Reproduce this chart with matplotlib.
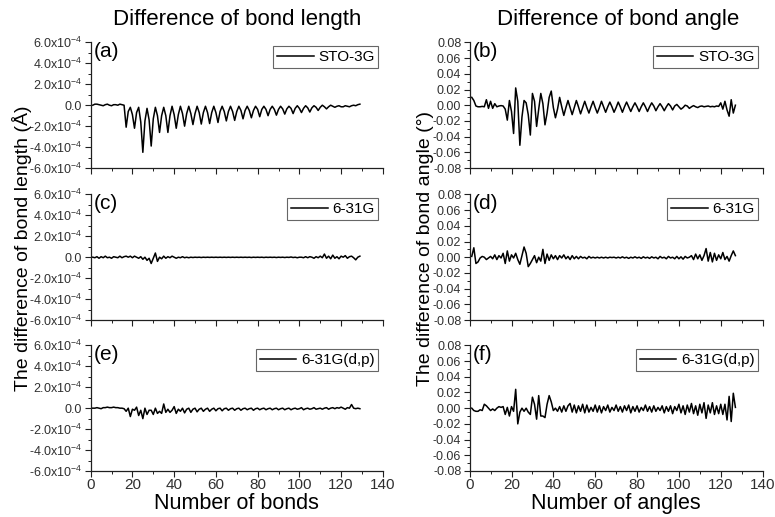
import numpy as np
import matplotlib
matplotlib.use("Agg")
import matplotlib.pyplot as plt
from matplotlib.ticker import MultipleLocator, FuncFormatter

plt.rcParams['font.family'] = ['Liberation Sans', 'DejaVu Sans']
plt.rcParams['mathtext.default'] = 'regular'

# bond length differences, in units of 1e-4 Angstrom (bonds 1..129)
sto3g_len = [
    0.00, 0.10, 0.10, 0.05, 0.00, -0.05, 0.05, 0.10,
    0.00, -0.05, 0.05, 0.05, 0.00, 0.10, 0.05, 0.00,
    -2.10, -0.60, -0.20, -0.90, -2.20, -0.70, -0.20, -1.60,
    -4.50, -1.50, -0.30, -1.40, -3.90, -1.30, -0.20, -1.00,
    -2.60, -1.00, -0.20, -1.00, -2.60, -1.00, -0.10, -0.90,
    -2.20, -0.90, -0.10, -0.80, -2.00, -0.80, -0.10, -0.80,
    -1.85, -0.80, -0.10, -0.70, -1.80, -0.70, -0.10, -0.70,
    -1.75, -0.70, -0.10, -0.70, -1.65, -0.60, -0.10, -0.60,
    -1.50, -0.60, -0.10, -0.60, -1.45, -0.60, -0.10, -0.50,
    -1.30, -0.50, -0.10, -0.50, -1.20, -0.50, -0.10, -0.40,
    -1.10, -0.40, -0.10, -0.40, -1.00, -0.40, -0.10, -0.40,
    -0.95, -0.40, -0.10, -0.35, -0.85, -0.35, -0.10, -0.30,
    -0.80, -0.30, -0.05, -0.30, -0.70, -0.30, -0.05, -0.25,
    -0.65, -0.25, -0.05, -0.20, -0.50, -0.20, 0.00, -0.15,
    -0.35, -0.15, 0.00, -0.10, -0.20, -0.10, -0.05, -0.15,
    -0.15, -0.05, -0.10, -0.15, -0.05, 0.00, -0.05, 0.05,
    0.10]

g631_len = [
    0.00, -0.05, 0.05, -0.10, 0.05, -0.05, 0.10, -0.05,
    0.00, -0.10, 0.05, 0.00, -0.05, 0.10, -0.05, 0.05,
    0.10, 0.00, 0.10, -0.05, 0.10, 0.00, -0.10, 0.05,
    -0.20, 0.00, -0.30, -0.10, -0.60, -0.10, 0.40, -0.40,
    0.00, -0.15, 0.10, -0.10, 0.05, -0.05, 0.10, 0.00,
    -0.10, 0.00, -0.05, 0.05, -0.05, 0.00, -0.05, 0.00,
    -0.03, 0.00, -0.02, 0.00, -0.03, 0.00, -0.02, 0.00,
    -0.02, 0.00, -0.02, 0.00, -0.02, 0.00, -0.02, 0.00,
    -0.02, 0.00, -0.02, 0.00, -0.02, 0.00, -0.02, 0.00,
    -0.02, 0.00, -0.02, 0.00, -0.03, 0.00, -0.02, 0.00,
    -0.02, 0.00, -0.03, 0.00, -0.02, 0.00, -0.02, 0.00,
    -0.03, 0.00, -0.02, 0.00, -0.03, 0.00, -0.02, 0.02,
    -0.03, 0.00, -0.05, 0.00, 0.00, -0.05, 0.05, -0.05,
    0.05, 0.00, -0.10, 0.05, -0.05, 0.10, -0.05, 0.30,
    -0.10, 0.10, -0.15, 0.20, -0.10, 0.05, -0.15, 0.10,
    0.00, 0.15, -0.10, 0.05, 0.10, -0.05, -0.25, 0.00,
    0.10]

g631dp_len = [
    0.00, 0.00, 0.05, 0.00, -0.05, 0.05, 0.05, 0.10,
    0.05, 0.05, 0.10, 0.05, 0.05, 0.00, 0.00, -0.05,
    -0.30, 0.00, -0.80, -0.10, -0.20, 0.10, -0.70, -0.20,
    -1.00, 0.00, -0.60, -0.20, -0.20, -0.60, 0.00, -0.50,
    -0.30, -0.50, 0.40, -0.40, -0.10, -0.40, -0.20, 0.15,
    -0.50, -0.10, -0.30, 0.00, -0.45, -0.10, 0.00, -0.40,
    -0.10, 0.00, -0.35, -0.10, 0.00, -0.30, -0.10, 0.00,
    -0.30, -0.10, 0.00, -0.25, -0.05, 0.00, -0.25, -0.05,
    0.00, -0.20, -0.05, 0.00, -0.20, -0.05, 0.00, -0.20,
    -0.05, 0.00, -0.15, -0.05, 0.00, -0.20, -0.05, 0.00,
    -0.15, -0.05, 0.00, -0.15, -0.05, 0.00, -0.15, -0.05,
    0.00, -0.15, -0.05, 0.00, -0.15, -0.05, 0.00, -0.15,
    -0.05, 0.00, -0.10, -0.05, 0.05, -0.15, -0.05, 0.00,
    -0.10, -0.05, 0.05, -0.10, -0.05, 0.00, -0.10, 0.00,
    0.05, -0.10, 0.00, 0.05, -0.05, 0.05, 0.00, 0.10,
    0.00, -0.10, 0.05, 0.00, 0.35, 0.00, -0.05, 0.00,
    -0.05]

# bond angle differences, in units of 0.01 degree (angles 1..127)
sto3g_ang = [
    1.00, 0.60, -0.10, -0.20, -0.20, -0.15, -0.20, 0.70,
    -0.40, 0.50, -0.40, 0.20, -0.20, -0.10, -0.05, -0.10,
    -0.50, -1.90, 0.60, -0.80, -3.60, 2.20, 0.50, -5.10,
    -1.50, 0.60, 0.30, -1.20, -3.80, 1.50, 0.50, -2.70,
    -0.50, 1.50, 0.20, -2.50, -1.00, 1.00, 1.80, -0.30,
    -1.60, -0.50, 1.00, -0.20, -1.30, -0.30, 0.60, -0.30,
    -1.20, -0.30, 0.60, -0.20, -1.10, -0.30, 0.50, -0.30,
    -1.00, -0.20, 0.50, -0.30, -1.00, -0.30, 0.50, -0.20,
    -0.90, -0.20, 0.40, -0.20, -0.90, -0.30, 0.40, -0.20,
    -0.90, -0.20, 0.40, -0.20, -0.80, -0.20, 0.30, -0.20,
    -0.80, -0.20, 0.30, -0.20, -0.80, -0.20, 0.30, -0.10,
    -0.70, -0.20, 0.20, -0.20, -0.70, -0.20, 0.20, -0.10,
    -0.60, -0.10, 0.10, -0.20, -0.50, -0.30, 0.00, -0.10,
    -0.40, -0.20, -0.05, -0.20, -0.30, -0.15, -0.10, -0.20,
    -0.15, -0.10, -0.20, -0.15, -0.20, -0.10, -0.15, 0.30,
    -0.50, 0.50, -0.60, -1.40, 0.70, -1.00, 0.00]

g631_ang = [
    0.10, 1.20, -0.80, -0.60, -0.10, 0.10, 0.00, -0.30,
    -0.10, 0.10, -0.20, 0.30, -0.30, 0.20, -0.10, 0.50,
    -0.80, 0.80, -0.50, 0.30, -0.10, 0.50, -0.30, -0.90,
    0.20, 1.30, 0.50, -1.20, -0.80, -0.30, 0.20, -0.70,
    0.00, -0.50, 1.00, -0.80, 0.40, -0.40, 0.30, -0.20,
    0.20, -0.30, 0.20, -0.10, 0.30, -0.20, 0.10, -0.30,
    0.20, -0.20, 0.10, -0.20, 0.10, -0.10, 0.00, -0.20,
    0.10, -0.10, 0.00, -0.10, 0.00, -0.10, 0.00, -0.10,
    0.00, -0.10, 0.00, -0.05, 0.00, -0.10, 0.00, -0.10,
    0.05, -0.10, 0.00, -0.15, 0.00, -0.10, 0.05, -0.10,
    0.00, -0.15, 0.05, -0.10, 0.00, -0.15, 0.05, -0.10,
    0.00, -0.20, 0.10, -0.10, 0.00, -0.20, 0.10, -0.10,
    0.00, -0.20, 0.10, -0.20, 0.05, -0.25, 0.10, -0.10,
    0.00, 0.20, -0.30, 0.40, -0.20, 0.30, -0.40, 0.20,
    1.10, -0.50, 0.60, -0.60, 0.50, -0.40, 0.30, -0.20,
    0.60, -0.30, 0.10, -0.50, 0.20, 0.80, 0.20]

g631dp_ang = [
    0.00, -0.30, -0.40, -0.40, -0.20, -0.30, 0.50, 0.30,
    0.00, -0.30, -0.10, -0.30, 0.00, 0.20, 0.10, 0.20,
    -0.80, 0.10, -1.00, 0.20, -0.40, 2.40, -2.00, -0.50,
    0.00, -0.40, 0.00, -0.50, -0.80, 1.40, 0.50, -1.40,
    1.60, -1.00, -1.00, -1.20, 0.50, 1.60, 0.80, -0.30,
    0.00, -0.40, 0.20, -0.50, 0.30, -0.40, 0.30, 0.60,
    -0.50, 0.40, -0.60, 0.30, -0.40, 0.50, -0.60, 0.40,
    -0.50, 0.10, -0.40, 0.40, -0.50, 0.30, -0.60, 0.20,
    -0.30, 0.40, -0.50, 0.10, -0.30, 0.40, -0.40, 0.20,
    -0.50, 0.30, -0.30, 0.40, -0.60, 0.20, -0.40, 0.30,
    -0.50, 0.10, -0.30, 0.40, -0.40, 0.20, -0.50, 0.30,
    -0.40, 0.10, -0.30, 0.30, -0.60, 0.20, -0.40, 0.30,
    -0.70, 0.20, -0.30, 0.50, -0.60, 0.30, -0.80, 0.40,
    -0.50, 0.60, -0.70, 0.30, -0.90, 0.50, -0.60, 0.70,
    -1.30, 0.40, -0.60, 0.70, -0.80, 0.30, -0.70, 0.50,
    -0.80, 0.50, -1.50, 1.50, -1.70, 1.90, 0.10]

basis_sets = ['STO-3G', '6-31G', '6-31G(d,p)']
len_series = [sto3g_len, g631_len, g631dp_len]
ang_series = [sto3g_ang, g631_ang, g631dp_ang]
left_tags = ['(a)', '(c)', '(e)']
right_tags = ['(b)', '(d)', '(f)']

tick_col = '#303030'


def len_fmt(v, pos):
    v = round(v * 1e4, 3) + 0.0
    if v == 0:
        return '0.0'
    return '%.1fx10$^{-4}$' % v


def ang_fmt(v, pos):
    v = round(v, 4) + 0.0
    return '%.2f' % v


def style_axis(ax, bottom_row):
    for s in ['top', 'right']:
        ax.spines[s].set_visible(False)
    for s in ['left', 'bottom']:
        ax.spines[s].set_linewidth(0.9)
        ax.spines[s].set_color('#202020')
    ax.set_xlim(0, 140)
    ax.xaxis.set_major_locator(MultipleLocator(20))
    ax.xaxis.set_minor_locator(MultipleLocator(10))
    ax.tick_params(which='major', direction='out', length=4, width=0.8,
                   colors='#202020', labelcolor=tick_col)
    ax.tick_params(which='minor', direction='out', length=2.5, width=0.7,
                   colors='#202020')
    ax.tick_params(axis='x', labelsize=11, pad=1)
    ax.tick_params(axis='y', labelsize=9, pad=2)
    if not bottom_row:
        ax.tick_params(axis='x', labelbottom=False)


def add_legend(ax):
    leg = ax.legend(loc='upper right', bbox_to_anchor=(0.985, 0.97),
                    frameon=True, fancybox=False, fontsize=11,
                    handlelength=2.4, handletextpad=0.3, borderpad=0.25,
                    borderaxespad=0)
    leg.get_frame().set_edgecolor('#404040')
    leg.get_frame().set_linewidth(0.8)


fig = plt.figure(figsize=(7.75, 5.17), dpi=100)
bottoms = [0.675, 0.381, 0.089]
h = 0.243

for i in range(3):
    bottom_row = (i == 2)

    axl = fig.add_axes([0.117, bottoms[i], 0.377, h])
    xb = np.arange(1, len(len_series[i]) + 1)
    axl.plot(xb, np.array(len_series[i]) * 1e-4, color='black', lw=1.1,
             label=basis_sets[i])
    axl.set_ylim(-6e-4, 6e-4)
    axl.yaxis.set_major_locator(MultipleLocator(2e-4))
    axl.yaxis.set_minor_locator(MultipleLocator(1e-4))
    axl.yaxis.set_major_formatter(FuncFormatter(len_fmt))
    style_axis(axl, bottom_row)
    axl.text(0.01, 1.0, left_tags[i], transform=axl.transAxes, ha='left',
             va='top', fontsize=15)
    add_legend(axl)

    axr = fig.add_axes([0.606, bottoms[i], 0.378, h])
    xa = np.arange(1, len(ang_series[i]) + 1)
    axr.plot(xa, np.array(ang_series[i]) * 0.01, color='black', lw=1.1,
             label=basis_sets[i])
    axr.set_ylim(-0.08, 0.08)
    axr.yaxis.set_major_locator(MultipleLocator(0.02))
    axr.yaxis.set_minor_locator(MultipleLocator(0.01))
    axr.yaxis.set_major_formatter(FuncFormatter(ang_fmt))
    style_axis(axr, bottom_row)
    axr.text(0.01, 1.0, right_tags[i], transform=axr.transAxes, ha='left',
             va='top', fontsize=15)
    add_legend(axr)

    if bottom_row:
        axl.set_xlabel('Number of bonds', fontsize=15.5, labelpad=1)
        axr.set_xlabel('Number of angles', fontsize=15.5, labelpad=1)

fig.text(0.306, 0.963, 'Difference of bond length', ha='center', va='center',
         fontsize=16)
fig.text(0.797, 0.963, 'Difference of bond angle', ha='center', va='center',
         fontsize=16)
fig.text(0.029, 0.52, 'The difference of bond length (\u00c5)', rotation=90,
         ha='center', va='center', fontsize=14)
fig.text(0.549, 0.52, 'The difference of bond angle (\u00b0)', rotation=90,
         ha='center', va='center', fontsize=14)

fig.savefig('out.png', dpi=100)
